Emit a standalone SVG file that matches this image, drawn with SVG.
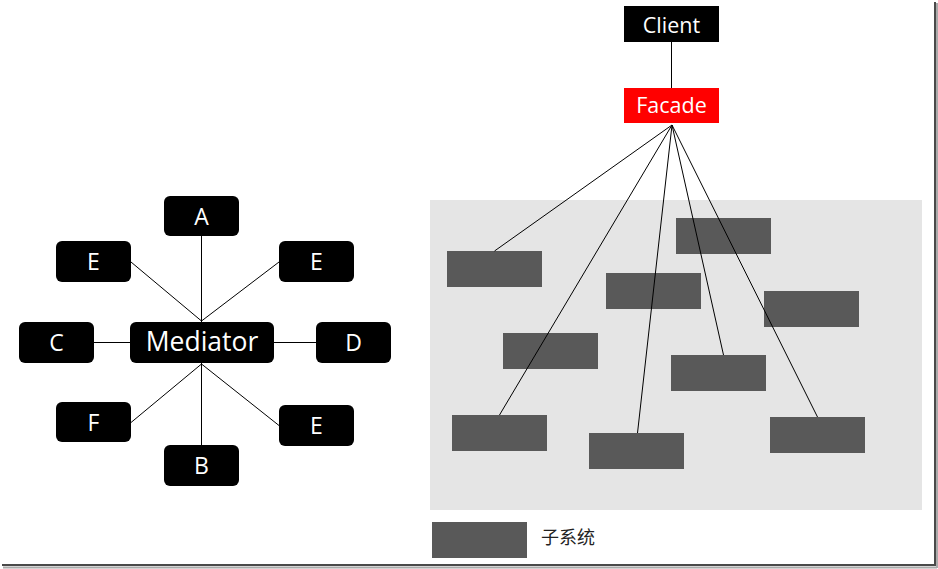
<svg xmlns="http://www.w3.org/2000/svg" width="938" height="569" viewBox="0 0 938 569">
<style>
.blk{fill:#000}
.med{fill:#000}
.sub{fill:#595959}
.lbl{font-family:"Open Sans","Noto Sans",sans-serif;fill:#fff;text-anchor:middle}
.ltr{font-size:23px}
.ln{stroke:#000;stroke-width:1;fill:none}
</style>
<rect x="0" y="0" width="938" height="569" fill="#fff"/>
<g id="frame">
<line x1="935" y1="2" x2="935" y2="566" stroke="#4a4a4a" stroke-width="2"/>
<line x1="937" y1="3" x2="937" y2="568" stroke="#aaa" stroke-width="2"/>
<line x1="2" y1="565" x2="936" y2="565" stroke="#4a4a4a" stroke-width="2"/>
<line x1="3" y1="567.5" x2="937" y2="567.5" stroke="#aaa" stroke-width="2"/>
</g>
<rect id="subsystem-area" x="430" y="200" width="492" height="310" fill="#e5e5e5"/>
<g id="mediator-nodes">
<g id="A"><rect class="med" x="164" y="196" width="75" height="40" rx="6"/><text class="lbl ltr" x="201.5" y="225">A</text></g>
<g id="E1"><rect class="med" x="56" y="241" width="75" height="41" rx="6"/><text class="lbl ltr" x="93.5" y="270">E</text></g>
<g id="E2"><rect class="med" x="279" y="241" width="75" height="41" rx="6"/><text class="lbl ltr" x="316.5" y="270">E</text></g>
<g id="C"><rect class="med" x="19" y="322" width="75" height="41" rx="6"/><text class="lbl ltr" x="56.5" y="351">C</text></g>
<g id="Mediator"><rect class="med" x="130" y="322" width="144" height="41" rx="6"/><text class="lbl" x="202" y="351" font-size="26.5">Mediator</text></g>
<g id="D"><rect class="med" x="316" y="322" width="75" height="41" rx="6"/><text class="lbl ltr" x="353.5" y="351">D</text></g>
<g id="F"><rect class="med" x="56" y="402" width="75" height="40" rx="6"/><text class="lbl ltr" x="93.5" y="431">F</text></g>
<g id="E3"><rect class="med" x="279" y="405" width="75" height="41" rx="6"/><text class="lbl ltr" x="316.5" y="434">E</text></g>
<g id="B"><rect class="med" x="164" y="445" width="75" height="41" rx="6"/><text class="lbl ltr" x="201.5" y="474">B</text></g>
</g>
<g id="facade-nodes">
<g id="Client"><rect class="blk" x="624" y="6" width="95" height="36"/><text class="lbl" x="671.5" y="33" font-size="21.5">Client</text></g>
<g id="Facade"><rect x="624" y="88" width="95" height="35" fill="#ff0000"/><text class="lbl" x="671.5" y="113" font-size="21.5">Facade</text></g>
</g>
<g id="subsystems">
<rect class="sub" x="447" y="251" width="95" height="36"/>
<rect class="sub" x="676" y="218" width="95" height="36"/>
<rect class="sub" x="606" y="273" width="95" height="36"/>
<rect class="sub" x="764" y="291" width="95" height="36"/>
<rect class="sub" x="503" y="333" width="95" height="36"/>
<rect class="sub" x="671" y="355" width="95" height="36"/>
<rect class="sub" x="452" y="415" width="95" height="36"/>
<rect class="sub" x="589" y="433" width="95" height="36"/>
<rect class="sub" x="770" y="417" width="95" height="36"/>
</g>
<g id="connectors">
<line class="ln" x1="201.5" y1="236" x2="201.5" y2="322"/>
<line class="ln" x1="131" y1="262" x2="201.5" y2="321"/>
<line class="ln" x1="279" y1="262" x2="201.5" y2="321"/>
<line class="ln" x1="94" y1="342.5" x2="130" y2="342.5"/>
<line class="ln" x1="274" y1="342.5" x2="316" y2="342.5"/>
<line class="ln" x1="201.5" y1="363" x2="201.5" y2="445"/>
<line class="ln" x1="131" y1="422.5" x2="201.5" y2="364"/>
<line class="ln" x1="279" y1="425.5" x2="201.5" y2="364"/>
<line class="ln" x1="671.5" y1="42" x2="671.5" y2="88"/>
<line class="ln" x1="672" y1="125" x2="494.5" y2="251"/>
<line class="ln" x1="672" y1="125" x2="499.5" y2="415"/>
<line class="ln" x1="672" y1="125" x2="637.5" y2="433"/>
<line class="ln" x1="672" y1="125" x2="723.5" y2="355"/>
<line class="ln" x1="672" y1="125" x2="817.5" y2="417"/>
</g>
<g id="legend">
<rect class="sub" x="432" y="522" width="95" height="36"/>
<text x="541" y="544" font-family="'Noto Sans CJK SC','Noto Sans',sans-serif" font-size="18" fill="#222">子系统</text>
</g>
</svg>
